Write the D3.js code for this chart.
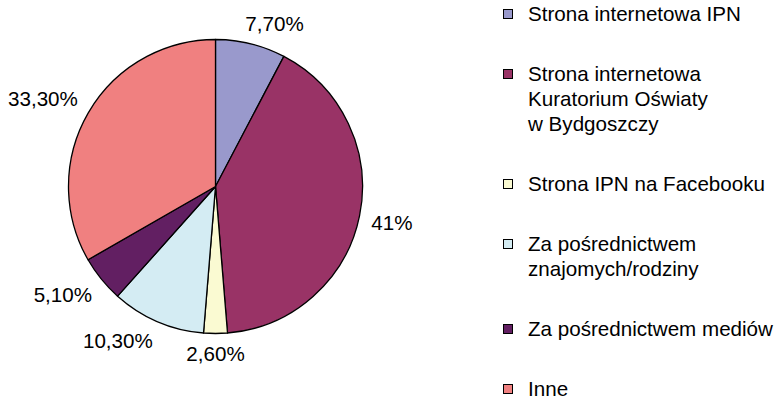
<!DOCTYPE html>
<html>
<head>
<meta charset="utf-8">
<script src="https://cdn.jsdelivr.net/npm/d3@7"></script>
<style>
  body { margin: 0; background: #fff; }
  text { font-family: "Liberation Sans", Arial, sans-serif; font-size: 20.6px; fill: #000; }
</style>
</head>
<body>
<div id="chart"></div>
<script>
// Pie chart data
const categories = [
  'Strona internetowa IPN',
  'Strona internetowa\nKuratorium Oświaty\nw Bydgoszczy',
  'Strona IPN na Facebooku',
  'Za pośrednictwem\nznajomych/rodziny',
  'Za pośrednictwem mediów',
  'Inne'
];
const values = [7.7, 41, 2.6, 10.3, 5.1, 33.3];
const valueLabels = ['7,70%', '41%', '2,60%', '10,30%', '5,10%', '33,30%'];
const colors = ['#9999cc', '#993366', '#fafad2', '#d4ecf3', '#621f62', '#f08080'];

const width = 778;
const height = 402;
const cx = 215.5, cy = 186.5, radius = 147;

const svg = d3.select('#chart')
  .append('svg')
  .attr('width', width)
  .attr('height', height);

const data = categories.map((c, i) => ({ name: c, value: values[i], label: valueLabels[i], color: colors[i] }));

const pie = d3.pie().sort(null).value(d => d.value);
const arc = d3.arc().innerRadius(0).outerRadius(radius);
const arcs = pie(data);

const g = svg.append('g').attr('transform', `translate(${cx},${cy})`);

g.selectAll('path')
  .data(arcs)
  .enter().append('path')
  .attr('d', arc)
  .attr('fill', d => d.data.color)
  .attr('stroke', '#000')
  .attr('stroke-width', 1.3)
  .attr('stroke-linejoin', 'round');

// Data labels: nearest corner of the label box sits just off the rim
const labelGap = 12;
const pushOut = v => Math.max(-1, Math.min(1, v * 3));
g.selectAll('text.val')
  .data(arcs)
  .enter().append('text')
  .attr('class', 'val')
  .text(d => d.data.label)
  .attr('text-anchor', 'middle')
  .each(function (d) {
    const a = (d.startAngle + d.endAngle) / 2;
    const bb = this.getBBox();
    const s = Math.sin(a), c = Math.cos(a);
    const x = (radius + labelGap) * s + pushOut(s) * bb.width / 2;
    const y = -(radius + labelGap) * c - pushOut(c) * 8;
    d3.select(this).attr('x', x).attr('y', y + 7);
  });

// Legend
const lineH = 25;
const rowGap = 35;
const legend = svg.append('g').attr('transform', 'translate(503,0)');
let yPos = 14;
data.forEach(d => {
  const lines = d.name.split('\n');
  const row = legend.append('g').attr('transform', `translate(0,${yPos})`);
  row.append('rect')
    .attr('x', 0.5)
    .attr('y', -4.5)
    .attr('width', 9)
    .attr('height', 9)
    .attr('fill', d.color)
    .attr('stroke', '#000')
    .attr('stroke-width', 1);
  const t = row.append('text').attr('x', 25).attr('y', 7);
  lines.forEach((l, i) => {
    t.append('tspan').attr('x', 25).attr('dy', i === 0 ? 0 : lineH).text(l);
  });
  yPos += lines.length * lineH + rowGap;
});
</script>
</body>
</html>
